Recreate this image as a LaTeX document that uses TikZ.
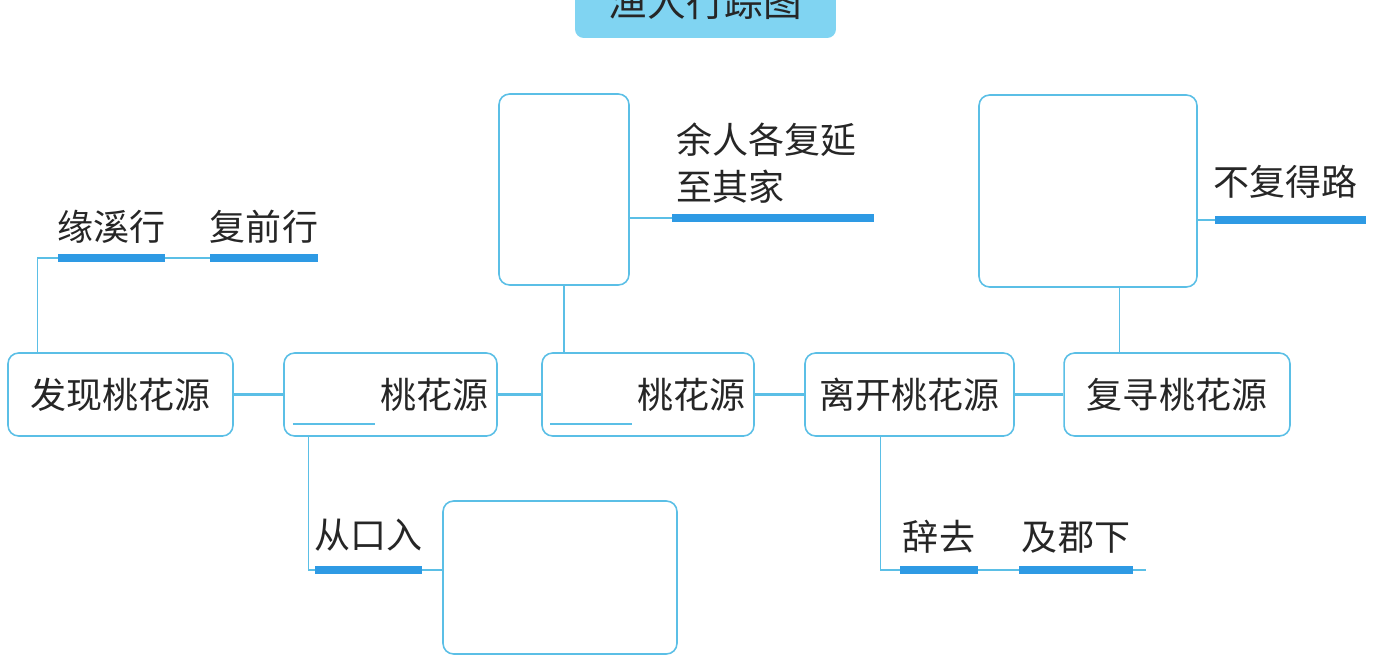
\documentclass[tikz,border=0pt]{standalone}
\usepackage{fontspec}
\newfontfamily\cjk{Noto Sans CJK SC}
\usetikzlibrary{positioning}
\pgfdeclarelayer{background}
\pgfsetlayers{background,main}
\definecolor{edgeblue}{HTML}{5BBFE6}
\definecolor{barblue}{HTML}{2E9AE4}
\definecolor{titlefill}{HTML}{80D4F2}
\definecolor{ink}{HTML}{262626}
\tikzset{
  stage/.style={draw=edgeblue,line width=0.9pt,rounded corners=6pt,fill=white,
    minimum height=1.66cm,inner sep=0pt,text=ink,font=\cjk\fontsize{20.5}{24}\selectfont},
  frame/.style={draw=edgeblue,line width=0.9pt,rounded corners=6pt,inner sep=0pt},
  blank/.style={fill=barblue,minimum height=0.15cm,inner sep=0pt},
  tag/.style={inner sep=0pt,text=ink,font=\cjk\fontsize{20.5}{27}\selectfont},
  link/.style={edgeblue,line width=0.6pt},
  joint/.style={edgeblue,line width=1.8pt}
}
\newcommand{\Stage}[4]% pos, name, width, text
{\node[stage,minimum width=#3] (#2) at (#1) {#4};}
\newcommand{\Frame}[4]% pos, name, width, height
{\node[frame,minimum width=#3,minimum height=#4] (#2) at (#1) {};}
\newcommand{\Blank}[3]% pos, name, width
{\node[blank,minimum width=#3] (#2) at (#1) {};}
\newcommand{\Link}[3]%
{ \begin{pgfonlayer}{background}
    \draw[#3] (#1) -- (#2);
  \end{pgfonlayer}}
\newcommand{\Elbow}[3]%
{ \begin{pgfonlayer}{background}
    \draw[#3] (#1) -| (#2);
  \end{pgfonlayer}}
\newcommand{\Gap}{\smash{\color{edgeblue}\rule[-9.5pt]{1.64cm}{0.9pt}}\hspace{3pt}}

\begin{document}
\begin{tikzpicture}[x=0.02cm,y=-0.02cm]
      \useasboundingbox (0,0) rectangle (1378,664);
      \clip (0,0) rectangle (1378,664);
      \node[fill=titlefill,rounded corners=5pt,minimum width=5.22cm,minimum height=1.6cm] (title) at (705.5,-2) {};
      \node[inner sep=0pt,text=ink,font=\cjk\fontsize{22}{26}\selectfont] (titletext) at ([yshift=-0.08cm]title.center) {渔人行踪图};
      % main line
      \Stage{120.5,394.5}{stage1}{4.5cm}{发现桃花源}
      \Stage{390.5,394.5}{stage2}{4.26cm}{\Gap 桃花源}
      \Stage{648,394.5}{stage3}{4.24cm}{\Gap 桃花源}
      \Stage{909.5,394.5}{stage4}{4.18cm}{离开桃花源}
      \Stage{1177,394.5}{stage5}{4.52cm}{复寻桃花源}
      \Frame{560,577.5}{blankA}{4.68cm}{3.06cm}
      \Frame{564,189.5}{blankB}{2.6cm}{3.82cm}
      \Frame{1088,191}{blankC}{4.36cm}{3.84cm}
      % answer bars
      \Blank{111.5,258}{barA1}{2.14cm}
      \Blank{264,258}{barA2}{2.16cm}
      \Blank{368.5,570}{barB}{2.14cm}
      \Blank{773,218}{barC}{4.04cm}
      \Blank{939,570}{barD1}{1.56cm}
      \Blank{1076,570}{barD2}{2.28cm}
      \Blank{1290.5,220}{barE}{3.02cm}
      \node[tag,above=0.2cm of barA1] (tagA1) {缘溪行};
      \node[tag,above=0.2cm of barA2] (tagA2) {复前行};
      \node[tag,above=0.28cm of barB] (tagB) {从口入};
      \node[tag,align=left,anchor=south west] (tagC) at ([xshift=0.08cm,yshift=0.2cm]barC.north west) {余人各复延\\至其家};
      \node[tag,above=0.24cm of barD1] (tagD1) {辞去};
      \node[tag,above=0.24cm of barD2] (tagD2) {及郡下};
      \node[tag,anchor=south west] (tagE) at ([xshift=-0.04cm,yshift=0.34cm]barE.north west) {不复得路};
      \coordinate (hook1) at ([xshift=0.6cm]stage1.north west);
      \coordinate (hook2) at ([xshift=0.5cm]stage2.south west);
      \coordinate (hook4) at ([xshift=1.52cm]stage4.south west);
      \coordinate (hook5) at ([xshift=1.12cm]stage5.north west);
      \coordinate (tail) at (1146,570);
      \Link{stage1}{stage2}{joint}
      \Link{stage2}{stage3}{joint}
      \Link{stage3}{stage4}{joint}
      \Link{stage4}{stage5}{joint}
      \Elbow{barA1.west}{hook1}{link}
      \Link{barA1.east}{barA2.west}{link}
      \Elbow{barB.west}{hook2}{link}
      \Link{barB.east}{barB.east -| blankA.west}{link}
      \Link{blankB.south}{blankB.south |- stage3.north}{link}
      \Link{blankB.east |- barC.west}{barC.west}{link}
      \Elbow{barD1.west}{hook4}{link}
      \Link{barD1.east}{barD2.west}{link}
      \Link{barD2.east}{tail}{link}
      \Link{hook5}{hook5 |- blankC.south}{link}
      \Link{blankC.east |- barE.west}{barE.west}{link}
    \end{tikzpicture}
\end{document}
